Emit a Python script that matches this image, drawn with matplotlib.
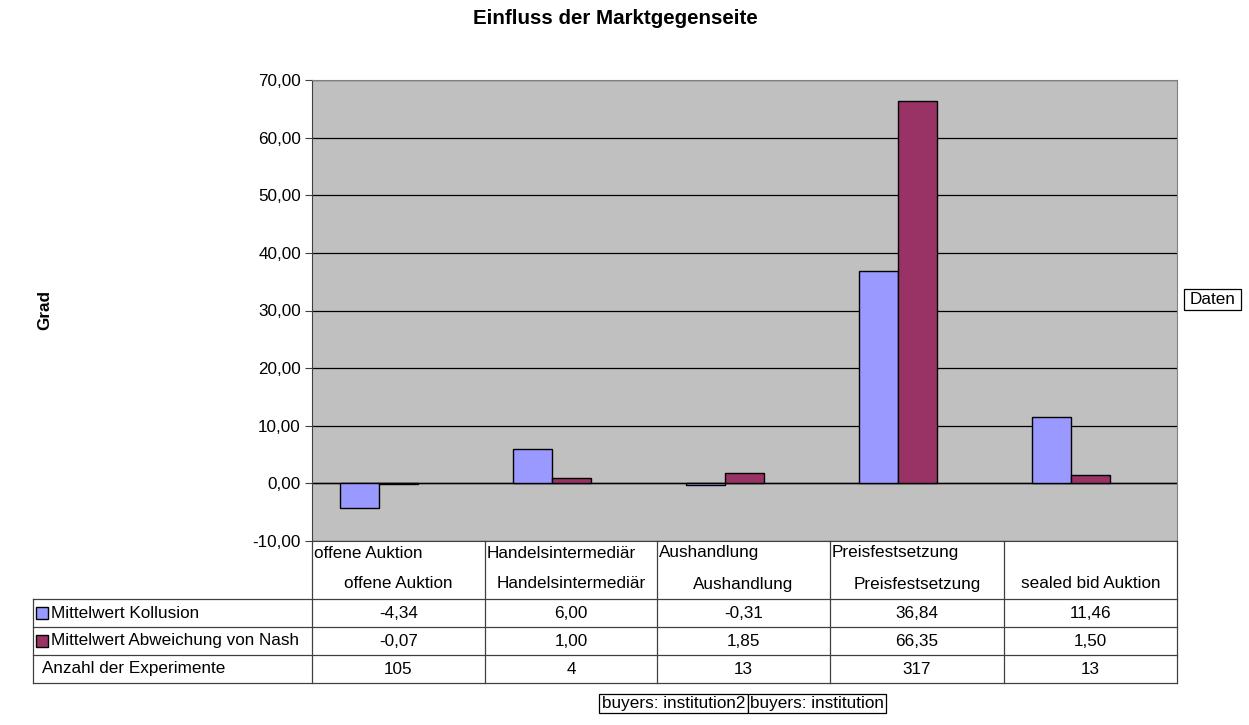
import matplotlib
matplotlib.use("Agg")
import matplotlib.pyplot as plt
from matplotlib.patches import Rectangle

plt.rcParams['font.family'] = ['Liberation Sans', 'DejaVu Sans']

categories_top = ["offene Auktion", "Handelsintermediär", "Aushandlung", "Preisfestsetzung", ""]
categories_bottom = ["offene Auktion", "Handelsintermediär", "Aushandlung", "Preisfestsetzung", "sealed bid Auktion"]
kollusion = [-4.34, 6.00, -0.31, 36.84, 11.46]
nash = [-0.07, 1.00, 1.85, 66.35, 1.50]
anzahl = [105, 4, 13, 317, 13]
series_names = ["Mittelwert Kollusion", "Mittelwert Abweichung von Nash", "Anzahl der Experimente"]
yticks = [-10, 0, 10, 20, 30, 40, 50, 60, 70]

c_koll = "#9999FF"
c_nash = "#993366"

W, H = 1249, 725
fig = plt.figure(figsize=(W / 100, H / 100), dpi=100)

fs = 12.3

L, R, T, B = 312, 1177, 80, 541
ax = fig.add_axes([L / W, 1 - B / H, (R - L) / W, (B - T) / H])
ax.set_facecolor("#C0C0C0")
ax.set_xlim(0, 5)
ax.set_ylim(-10, 70)
ax.set_yticks(yticks)
ax.set_yticklabels([f"{v:.2f}".replace(".", ",") for v in yticks], fontsize=fs)
ax.set_xticks([])
ax.yaxis.grid(True, color="black", lw=0.9)
ax.set_axisbelow(True)
ax.tick_params(axis="y", length=5, width=0.8, color="#404040", pad=3)
for s in ["top", "right"]:
    ax.spines[s].set_color("#808080")
ax.spines["left"].set_color("#404040")
ax.spines["bottom"].set_color("#404040")

bw = 39 / 173
x0 = [i + 28 / 173 for i in range(5)]
ax.bar(x0, kollusion, width=bw, align="edge", color=c_koll, edgecolor="black", lw=1.0, zorder=3)
ax.bar([x + bw for x in x0], nash, width=bw, align="edge", color=c_nash, edgecolor="black", lw=1.0, zorder=3)
ax.axhline(0, color="black", lw=1.0, zorder=2)

fig.text(615 / W, 1 - 19 / H, "Einfluss der Marktgegenseite", ha="center", va="center",
         fontsize=14.8, fontweight="bold")
fig.text(45 / W, 1 - 310 / H, "Grad", ha="center", va="center", rotation=90,
         fontsize=12.3, fontweight="bold")

# overlay in pixel coordinates
ov = fig.add_axes([0, 0, 1, 1], facecolor="none")
ov.set_xlim(0, W)
ov.set_ylim(H, 0)
ov.axis("off")

cols = [312, 485, 657, 830, 1004, 1177]
rows = [599, 627, 655, 683]
lc = "#404040"
for x in cols:
    ov.plot([x, x], [B, rows[-1]], color=lc, lw=0.9)
for y in rows:
    ov.plot([33, 1177], [y, y], color=lc, lw=0.9)
ov.plot([33, 33], [rows[0], rows[-1]], color=lc, lw=0.9)

for i in range(5):
    xl, xr = cols[i], cols[i + 1]
    if categories_top[i]:
        ov.text(xl + 2, 553, categories_top[i], ha="left", va="center", fontsize=fs)
    ov.text((xl + xr) / 2, 584, categories_bottom[i], ha="center", va="center", fontsize=fs)
    ov.text((xl + xr) / 2, 613, f"{kollusion[i]:.2f}".replace(".", ","), ha="center", va="center", fontsize=fs)
    ov.text((xl + xr) / 2, 641, f"{nash[i]:.2f}".replace(".", ","), ha="center", va="center", fontsize=fs)
    ov.text((xl + xr) / 2, 669, str(anzahl[i]), ha="center", va="center", fontsize=fs)

# row labels with legend keys
for j, (y, col) in enumerate(zip([613, 641], [c_koll, c_nash])):
    ov.add_patch(Rectangle((36, y - 6), 12, 12, facecolor=col, edgecolor="black", lw=1.0))
    ov.text(51, y, series_names[j], ha="left", va="center", fontsize=fs)
ov.text(42, 669, series_names[2], ha="left", va="center", fontsize=fs)

# Daten box
ov.add_patch(Rectangle((1184, 289), 57, 21, facecolor="white", edgecolor="black", lw=0.9))
ov.text(1212.5, 299.5, "Daten", ha="center", va="center", fontsize=fs)

# buyers boxes
ov.add_patch(Rectangle((599, 694), 149, 19, facecolor="white", edgecolor="black", lw=0.9))
ov.add_patch(Rectangle((748, 694), 138, 19, facecolor="white", edgecolor="black", lw=0.9))
ov.text(673.5, 703.5, "buyers: institution2", ha="center", va="center", fontsize=fs)
ov.text(817, 703.5, "buyers: institution", ha="center", va="center", fontsize=fs)

fig.savefig("out.png", dpi=100, facecolor="white")
